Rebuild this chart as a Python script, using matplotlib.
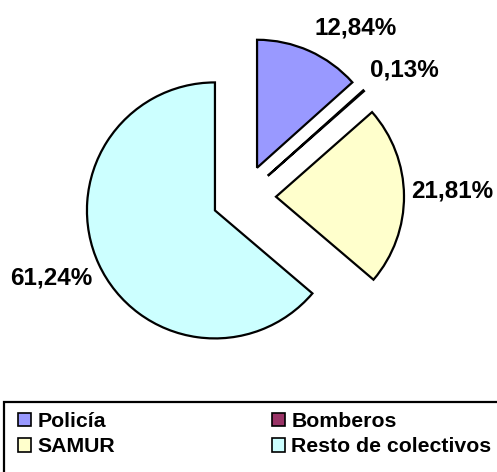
import matplotlib
matplotlib.use('Agg')
import matplotlib.pyplot as plt
from matplotlib.patches import Rectangle, Patch

W, H = 497, 472
DPI = 100

CATEGORIES = ['Policía', 'Bomberos', 'SAMUR', 'Resto de colectivos']
VALUES = [12.84, 0.13, 21.81, 61.24]
LABELS = ['12,84%', '0,13%', '21,81%', '61,24%']
COLORS = ['#9999FF', '#993366', '#FFFFCC', '#CCFFFF']

# pie centre and radius in pixels
CX, CY, R = 244, 197, 128
# label centres in pixels (from top-left)
LABEL_PX = [(356, 28), (404, 70), (452, 191), (51, 278)]

plt.rcParams['font.family'] = ['Liberation Sans', 'DejaVu Sans']

fig = plt.figure(figsize=(W / DPI, H / DPI), dpi=DPI)
ax = fig.add_axes([0, 0, 1, 1])

wedges, _ = ax.pie(VALUES, explode=[0.25] * 4, startangle=90, counterclock=False,
                   colors=COLORS, radius=1.0, frame=True,
                   wedgeprops=dict(edgecolor='black', linewidth=1.6))
ax.set_xlim(-CX / R, (W - CX) / R)
ax.set_ylim((CY - H) / R, CY / R)
ax.set_aspect('auto')
ax.axis('off')

for lab, (px, py) in zip(LABELS, LABEL_PX):
    fig.text(px / W, 1 - py / H, lab, ha='center', va='center',
             fontsize=17.5, fontweight='bold', color='black')

# legend frame (runs past the right and bottom edge)
fig.patches.append(Rectangle((4 / W, -0.05), 1.05, (H - 402) / H + 0.05,
                             transform=fig.transFigure, fill=False,
                             edgecolor='black', linewidth=1.6))

# legend fills by column, so reorder to get row-wise layout
order = [0, 2, 1, 3]
handles = [Patch(facecolor=COLORS[i], edgecolor='black', linewidth=1.2) for i in order]
fig.legend(handles, [CATEGORIES[i] for i in order], ncol=2, frameon=False,
           loc='upper left', bbox_to_anchor=(18 / W, 1 - 412 / H),
           prop=dict(size=15.3, weight='bold'),
           borderpad=0, borderaxespad=0,
           handlelength=0.62, handleheight=0.62, handletextpad=0.3,
           columnspacing=7.37, labelspacing=0.3)

fig.savefig('out.png', dpi=DPI)
